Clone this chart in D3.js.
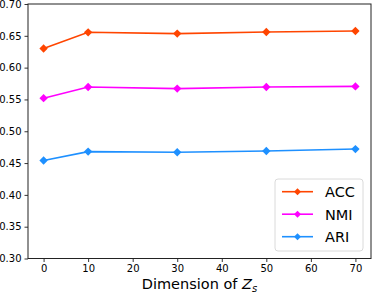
<!DOCTYPE html>
<html lang="en">

<head>
    <meta charset="UTF-8">
    <title>Dimension of Zs</title>
    <script src="https://d3js.org/d3.v7.min.js"></script>
</head>
<style>
    body {
        margin: 0;
        background: #fff;
    }

    svg {
        display: block;
        font-family: "DejaVu Sans", sans-serif;
    }
</style>

<body>
    <svg width="374" height="294"></svg>
    <script>
        // data
        var dims = [0, 10, 30, 50, 70];
        var seriesNames = ["ACC", "NMI", "ARI"];
        var accValues = [0.630, 0.6555, 0.6535, 0.656, 0.6575];
        var nmiValues = [0.552, 0.5695, 0.567, 0.5695, 0.5705];
        var ariValues = [0.454, 0.468, 0.467, 0.469, 0.472];
        var xTicks = [0, 10, 20, 30, 40, 50, 60, 70];
        var yTicks = [0.30, 0.35, 0.40, 0.45, 0.50, 0.55, 0.60, 0.65, 0.70];
        var colors = ["#ff4500", "#ff00ff", "#1e90ff"];

        var svg = d3.select("svg");
        // plot box (note: "top" is reserved on window, so use plot*)
        var plotLeft = 28, plotRight = 371, plotTop = 4, plotBottom = 258.5;

        var x = d3.scaleLinear().domain([-3.5, 73.5]).range([plotLeft, plotRight]);
        var y = d3.scaleLinear().domain([0.30, 0.70]).range([plotBottom, plotTop]);

        var series = [accValues, nmiValues, ariValues].map(function (vals, i) {
            return { name: seriesNames[i], color: colors[i], values: vals };
        });

        // axes
        var xAxis = d3.axisBottom(x).tickValues(xTicks).tickSize(3.5).tickPadding(3)
            .tickFormat(d3.format("d"));
        var yAxis = d3.axisLeft(y).tickValues(yTicks).tickSize(3.5).tickPadding(3)
            .tickFormat(d3.format(".2f"));

        var gx = svg.append("g").attr("transform", "translate(0," + plotBottom + ")").call(xAxis);
        var gy = svg.append("g").attr("transform", "translate(" + plotLeft + ",0)").call(yAxis);
        [gx, gy].forEach(function (g) {
            g.select(".domain").remove();
            g.selectAll(".tick line").attr("stroke", "#000").attr("stroke-width", 0.8);
            g.selectAll(".tick text").attr("fill", "#000")
                .style("font-size", "10px").style("font-family", "DejaVu Sans");
        });

        // frame around the plot
        svg.append("rect")
            .attr("x", plotLeft)
            .attr("y", plotTop)
            .attr("width", plotRight - plotLeft)
            .attr("height", plotBottom - plotTop)
            .attr("fill", "none")
            .attr("stroke", "#222")
            .attr("stroke-width", 1);

        // lines + diamond markers
        var line = d3.line()
            .x(function (d, i) { return x(dims[i]); })
            .y(function (d) { return y(d); });
        var diamond = d3.symbol().type(d3.symbolSquare).size(35);

        series.forEach(function (s) {
            svg.append("path")
                .attr("d", line(s.values))
                .attr("fill", "none")
                .attr("stroke", s.color)
                .attr("stroke-width", 1.6);
            svg.selectAll(null)
                .data(s.values)
                .enter()
                .append("path")
                .attr("d", diamond)
                .attr("transform", function (d, i) {
                    return "translate(" + x(dims[i]) + "," + y(d) + ") rotate(45)";
                })
                .attr("fill", s.color);
        });

        // x label
        var xl = svg.append("text")
            .attr("x", (plotLeft + plotRight) / 2)
            .attr("y", 289)
            .attr("text-anchor", "middle")
            .style("font-size", "14.5px")
            .text("Dimension of ");
        xl.append("tspan").style("font-style", "italic").text("Z");
        xl.append("tspan").attr("dy", 3).style("font-size", "10px").style("font-style", "italic").text("s");

        // legend
        var lg = svg.append("g").attr("transform", "translate(275,179)");
        lg.append("rect")
            .attr("width", 88)
            .attr("height", 72)
            .attr("rx", 3)
            .attr("fill", "#fff")
            .attr("fill-opacity", 0.8)
            .attr("stroke", "#d0d0d0")
            .attr("stroke-width", 0.8);
        series.forEach(function (s, i) {
            var cy = 12.7 + i * 22.5;
            lg.append("line")
                .attr("x1", 7).attr("x2", 38)
                .attr("y1", cy).attr("y2", cy)
                .attr("stroke", s.color)
                .attr("stroke-width", 1.6);
            lg.append("path")
                .attr("d", d3.symbol().type(d3.symbolSquare).size(24))
                .attr("transform", "translate(22.5," + cy + ") rotate(45)")
                .attr("fill", s.color);
            lg.append("text")
                .attr("x", 50)
                .attr("y", cy + 5.3)
                .style("font-size", "14.5px")
                .text(s.name);
        });
    </script>
</body>

</html>
